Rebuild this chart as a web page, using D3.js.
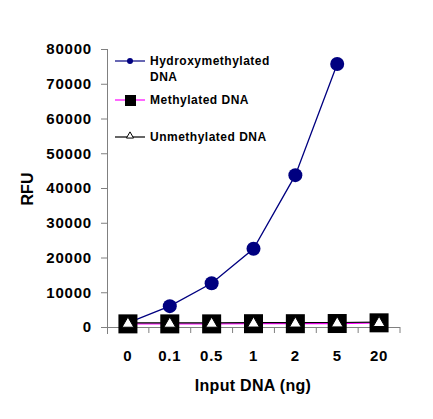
<!DOCTYPE html>
<html>
<head>
<meta charset="utf-8">
<script src="https://cdn.jsdelivr.net/npm/d3@7"></script>
<style>
  body { margin: 0; background: #fff; }
  text { font-family: Arial, "Liberation Sans", sans-serif; font-weight: bold; }
</style>
</head>
<body>
<svg id="chart" width="433" height="419"></svg>
<script>
var inputs = ["0", "0.1", "0.5", "1", "2", "5", "20"];
var hydroxy = [1200, 6000, 12600, 22500, 43700, 75700];
var methylated = [900, 900, 900, 950, 950, 1000, 1200];
var unmethylated = [1200, 1200, 1200, 1250, 1250, 1300, 1400];
var yTicks = [0, 10000, 20000, 30000, 40000, 50000, 60000, 70000, 80000];

var svg = d3.select("#chart");

var x = d3.scaleBand().domain(inputs).range([107, 400]).padding(0);
var y = d3.scaleLinear().domain([0, 80000]).range([327, 49]);

// axes
var xAxis = svg.append("g")
	.attr("transform", "translate(0,327)")
	.call(d3.axisBottom(x).tickSize(0).tickFormat(""));
xAxis.select(".domain").attr("stroke", "#808080").attr("d", "M101,0.5H400");
// ticks between categories
svg.selectAll(".xtick")
	.data(inputs)
	.enter().append("line")
	.attr("x1", function(d) { return x(d) + x.bandwidth(); })
	.attr("x2", function(d) { return x(d) + x.bandwidth(); })
	.attr("y1", 327).attr("y2", 333)
	.attr("stroke", "#808080");

svg.selectAll(".xlab")
	.data(inputs)
	.enter().append("text")
	.attr("x", function(d) { return x(d) + x.bandwidth() / 2; })
	.attr("y", 361)
	.attr("text-anchor", "middle")
	.attr("font-size", 15)
	.style("letter-spacing", "0.8px")
	.text(function(d) { return d; });

var yAxis = svg.append("g")
	.attr("transform", "translate(107,0)")
	.call(d3.axisLeft(y).tickValues(yTicks).tickSize(6).tickPadding(9).tickFormat(d3.format("d")));
yAxis.select(".domain").attr("stroke", "#808080").attr("d", "M0.5,49V334");
yAxis.selectAll(".tick line").attr("stroke", "#808080");
yAxis.selectAll(".tick text")
	.attr("font-size", 15)
	.attr("fill", "#000")
	.style("letter-spacing", "0.8px")
	.style("font-family", "Arial, 'Liberation Sans', sans-serif")
	.style("font-weight", "bold");

svg.append("text")
	.attr("transform", "translate(33,189) rotate(-90)")
	.attr("text-anchor", "middle")
	.attr("font-size", 16)
	.text("RFU");

svg.append("text")
	.attr("x", 253)
	.attr("y", 391)
	.attr("text-anchor", "middle")
	.attr("font-size", 16)
	.style("letter-spacing", "0.3px")
	.text("Input DNA (ng)");

var cx = function(d, i) { return x(inputs[i]) + x.bandwidth() / 2; };
var line = d3.line().x(cx).y(function(d) { return y(d); });

// hydroxymethylated
svg.append("path").datum(hydroxy)
	.attr("d", line).attr("fill", "none").attr("stroke", "#000080").attr("stroke-width", 1.3);
svg.selectAll(".hyd").data(hydroxy.slice(1)).enter().append("circle")
	.attr("cx", function(d, i) { return cx(d, i + 1); })
	.attr("cy", function(d) { return y(d); })
	.attr("r", 7)
	.attr("fill", "#000080");

// methylated
svg.append("path").datum(methylated)
	.attr("d", line).attr("fill", "none").attr("stroke", "#ff00ff").attr("stroke-width", 1.2);
// unmethylated
svg.append("path").datum(unmethylated)
	.attr("d", line).attr("fill", "none").attr("stroke", "#000").attr("stroke-width", 1.2);

svg.selectAll(".met").data(methylated).enter().append("rect")
	.attr("x", function(d, i) { return cx(d, i) - 9.5; })
	.attr("y", function(d) { return y(d) - 9.5; })
	.attr("width", 19).attr("height", 19)
	.attr("fill", "#000");

var tri = d3.symbol().type(d3.symbolTriangle).size(60);
svg.selectAll(".unm").data(unmethylated).enter().append("path")
	.attr("d", tri)
	.attr("transform", function(d, i) { return "translate(" + cx(d, i) + "," + (y(d) + 1) + ")"; })
	.attr("fill", "#fff").attr("stroke", "#000").attr("stroke-width", 1);

// legend
var legend = [
	{ name: ["Hydroxymethylated", "DNA"], color: "#000080", y: 61 },
	{ name: ["Methylated DNA"], color: "#ff00ff", y: 100 },
	{ name: ["Unmethylated DNA"], color: "#000", y: 137 }
];
legend.forEach(function(l, i) {
	svg.append("line")
		.attr("x1", 115).attr("x2", 145)
		.attr("y1", l.y).attr("y2", l.y)
		.attr("stroke", l.color).attr("stroke-width", 1.2);
	l.name.forEach(function(t, j) {
		svg.append("text")
			.attr("x", 150).attr("y", l.y + 4 + j * 16)
			.attr("font-size", 12)
			.style("letter-spacing", "0.5px")
			.text(t);
	});
});
svg.append("circle").attr("cx", 130).attr("cy", 61).attr("r", 3).attr("fill", "#000080");
svg.append("rect").attr("x", 125).attr("y", 95).attr("width", 11).attr("height", 11).attr("fill", "#000");
svg.append("path").attr("d", d3.symbol().type(d3.symbolTriangle).size(22))
	.attr("transform", "translate(130,136)")
	.attr("fill", "#fff").attr("stroke", "#000");
</script>
</body>
</html>
